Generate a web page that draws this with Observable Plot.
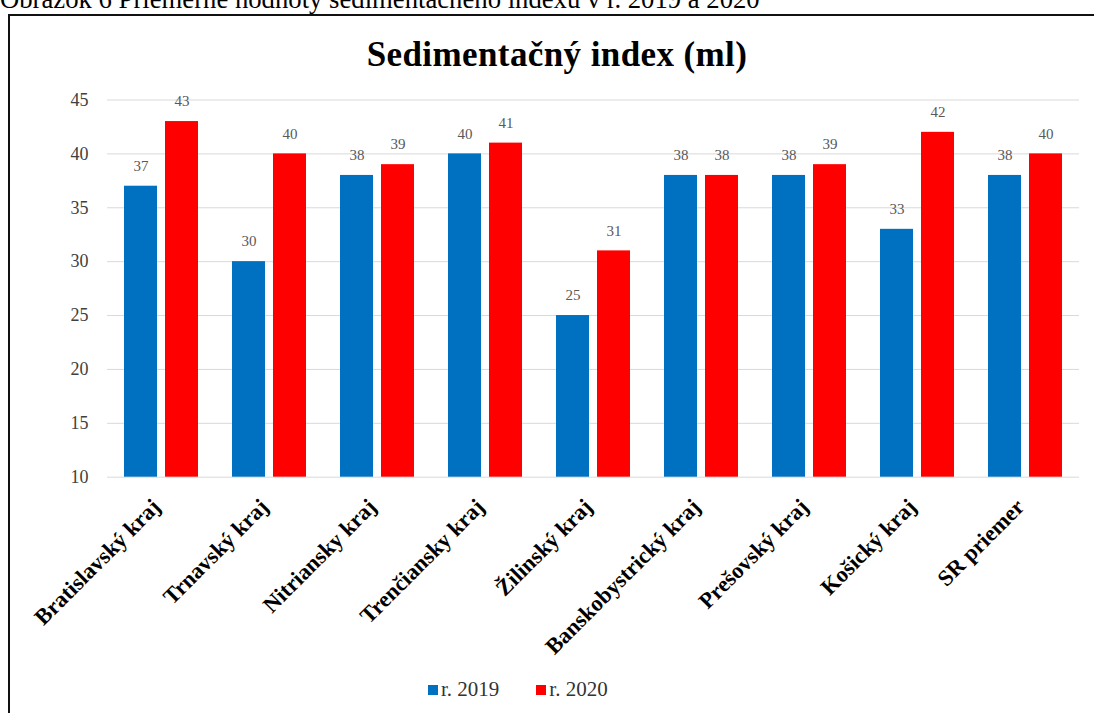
<!DOCTYPE html>
<html>
<head>
<meta charset="utf-8">
<script src="https://cdn.jsdelivr.net/npm/d3@7"></script>
<script src="https://cdn.jsdelivr.net/npm/@observablehq/plot@0.6"></script>
<style>
  body { margin: 0; background: #fff; width: 1094px; height: 713px; overflow: hidden; position: relative; font-family: "Liberation Serif", "Times New Roman", serif; }
  #caption { position: absolute; left: 0; top: -16px; font-size: 26.7px; white-space: nowrap; color: #000; }
  #frame { position: absolute; left: 8px; top: 14px; width: 1110px; height: 730px; border: 2px solid #111; box-sizing: border-box; }
  #chart { position: absolute; left: 0; top: 0; }
  #title { position: absolute; left: 557px; top: 35px; transform: translateX(-50%); font-weight: bold; font-size: 35px; letter-spacing: 0.4px; white-space: nowrap; color: #000; }
  #legend { position: absolute; left: 428px; top: 677px; display: flex; align-items: center; font-size: 21px; color: #333; white-space: nowrap; }
  #legend .item { display: flex; align-items: center; margin-right: 37px; }
  #legend .sw { width: 10px; height: 10px; margin-right: 3px; }
</style>
</head>
<body>
<div id="caption">Obrázok 6 Priemerné hodnoty sedimentačného indexu v r. 2019 a 2020</div>
<div id="frame"></div>
<div id="chart"></div>
<div id="title">Sedimentačný index (ml)</div>
<div id="legend"></div>
<script>
// Regions (plus the national average) and the two yearly series
const regions = [
  "Bratislavský kraj", "Trnavský kraj", "Nitriansky kraj", "Trenčiansky kraj",
  "Žilinský kraj", "Banskobystrický kraj", "Prešovský kraj", "Košický kraj", "SR priemer"
];
const years = ["r. 2019", "r. 2020"];
const values2019 = [37, 30, 38, 40, 25, 38, 38, 33, 38];
const values2020 = [43, 40, 39, 41, 31, 38, 39, 42, 40];
const yearColors = ["#0070c0", "#ff0000"];
const yTicks = [10, 15, 20, 25, 30, 35, 40, 45];

// Long table: one row per region and year
const rows = regions.flatMap((region, i) => [
  {region, year: years[0], value: values2019[i]},
  {region, year: years[1], value: values2020[i]}
]);

const chart = Plot.plot({
  width: 1094,
  height: 670,
  marginTop: 99.5,
  marginLeft: 103,
  marginRight: 12,
  marginBottom: 193.3,
  style: {background: "transparent", fontFamily: "'Liberation Serif', 'Times New Roman', serif", overflow: "visible"},
  fx: {domain: regions, padding: 0, label: null},
  x: {domain: years, paddingInner: 0.19, paddingOuter: 0.41, axis: null},
  y: {domain: [yTicks[0], yTicks[yTicks.length - 1]], axis: null},
  color: {domain: years, range: yearColors},
  marks: [
    Plot.gridY(yTicks, {stroke: "#d9d9d9", strokeOpacity: 1}),
    Plot.axisY(yTicks, {tickSize: 0, tickPadding: 19, fontSize: 18, fill: "#404040", label: null}),
    Plot.axisFx({
      anchor: "bottom", tickSize: 0, tickPadding: 26, tickRotate: -45, dx: -5,
      fontSize: 22.5, fontWeight: "bold", fill: "#000", label: null
    }),
    Plot.barY(rows, {fx: "region", x: "year", y1: yTicks[0], y2: "value", fill: "year"}),
    Plot.text(rows, {
      fx: "region", x: "year", y: "value", text: "value",
      dy: -20, fontSize: 15, fill: "#595959"
    })
  ]
});
document.getElementById("chart").append(chart);

// Legend under the plot
const legend = document.getElementById("legend");
years.forEach((year, i) => {
  const item = document.createElement("div");
  item.className = "item";
  const sw = document.createElement("span");
  sw.className = "sw";
  sw.style.background = yearColors[i];
  const label = document.createElement("span");
  label.textContent = year;
  item.append(sw, label);
  legend.append(item);
});
</script>
</body>
</html>
